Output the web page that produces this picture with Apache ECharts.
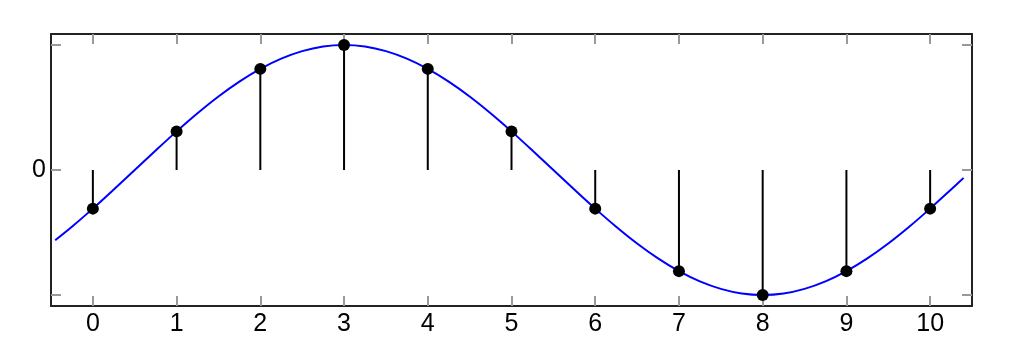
<!DOCTYPE html>
<html>
<head>
<meta charset="utf-8">
<script src="https://cdn.jsdelivr.net/npm/echarts@6/dist/echarts.min.js"></script>
<style>
html,body{margin:0;padding:0;background:#fff;}
#chart{width:1023px;height:341px;}
</style>
</head>
<body>
<div id="chart"></div>
<script>
// Sample indices and sampled values (stems)
const sampleX = [0, 1, 2, 3, 4, 5, 6, 7, 8, 9, 10];
const sampleY = [-0.309, 0.309, 0.809, 1, 0.809, 0.309, -0.309, -0.809, -1, -0.809, -0.309];
// Continuous curve
const curveX = [-0.45, -0.25, 0, 0.25, 0.5, 0.75, 1, 1.25, 1.5, 1.75, 2, 2.25, 2.5, 2.75, 3, 3.25, 3.5, 3.75, 4, 4.25, 4.5, 4.75, 5, 5.25, 5.5, 5.75, 6, 6.25, 6.5, 6.75, 7, 7.25, 7.5, 7.75, 8, 8.25, 8.5, 8.75, 9, 9.25, 9.5, 9.75, 10, 10.25, 10.4];
const curveY = [-0.562, -0.454, -0.309, -0.156, 0, 0.156, 0.309, 0.454, 0.588, 0.707, 0.809, 0.891, 0.951, 0.988, 1, 0.988, 0.951, 0.891, 0.809, 0.707, 0.588, 0.454, 0.309, 0.156, 0, -0.156, -0.309, -0.454, -0.588, -0.707, -0.809, -0.891, -0.951, -0.988, -1, -0.988, -0.951, -0.891, -0.809, -0.707, -0.588, -0.454, -0.309, -0.156, -0.063];
// Tick positions and labels
const xTicks = [0, 1, 2, 3, 4, 5, 6, 7, 8, 9, 10];
const yTicks = [-1, 0, 1];
const yLabels = [0];

const chart = echarts.init(document.getElementById('chart'), null, {renderer: 'canvas'});
const font = '"Liberation Sans", Arial, sans-serif';
const tickStyle = {show: true, inside: true, length: 10, lineStyle: {color: '#999', width: 2}};
const lineStyle = {show: true, onZero: false, lineStyle: {color: '#222', width: 2}};

function labelStyle(values, margin) {
  return {
    show: true, margin: margin, showMinLabel: true, showMaxLabel: true,
    color: '#000', fontFamily: font, fontSize: 25,
    formatter: function (v) {
      for (const t of values) { if (Math.abs(v - t) < 1e-6) return String(t); }
      return '';
    }
  };
}

function xAx(pos, labels) {
  return {
    type: 'value', position: pos, min: -0.5, max: 10.5, interval: 0.5,
    axisLine: lineStyle,
    axisTick: Object.assign({customValues: xTicks}, tickStyle),
    axisLabel: labels ? labelStyle(xTicks, 6) : {show: false},
    splitLine: {show: false}
  };
}
function yAx(pos, labels) {
  return {
    type: 'value', position: pos, min: -1.088, max: 1.088, interval: 0.068,
    axisLine: lineStyle,
    axisTick: Object.assign({customValues: yTicks}, tickStyle),
    axisLabel: labels ? labelStyle(yLabels, 5) : {show: false},
    splitLine: {show: false}
  };
}

chart.setOption({
  backgroundColor: '#fff',
  animation: false,
  textStyle: {fontFamily: font},
  grid: {left: 51, right: 51, top: 34, bottom: 35, containLabel: false},
  xAxis: [xAx('bottom', true), xAx('top', false)],
  yAxis: [yAx('left', true), yAx('right', false)],
  series: [
    {
      type: 'line', xAxisIndex: 0, yAxisIndex: 0,
      data: curveX.map((x, i) => [x, curveY[i]]),
      showSymbol: false, symbol: 'none', smooth: 0.3,
      lineStyle: {color: '#0000ff', width: 2},
      z: 2
    },
    {
      type: 'bar', xAxisIndex: 0, yAxisIndex: 0,
      data: sampleX.map((x, i) => [x, sampleY[i]]),
      barWidth: 2,
      itemStyle: {color: '#000'},
      z: 3
    },
    {
      type: 'scatter', xAxisIndex: 0, yAxisIndex: 0,
      data: sampleX.map((x, i) => [x, sampleY[i]]),
      symbol: 'circle', symbolSize: 12,
      itemStyle: {color: '#000', opacity: 1},
      z: 4
    }
  ]
});
</script>
</body>
</html>
